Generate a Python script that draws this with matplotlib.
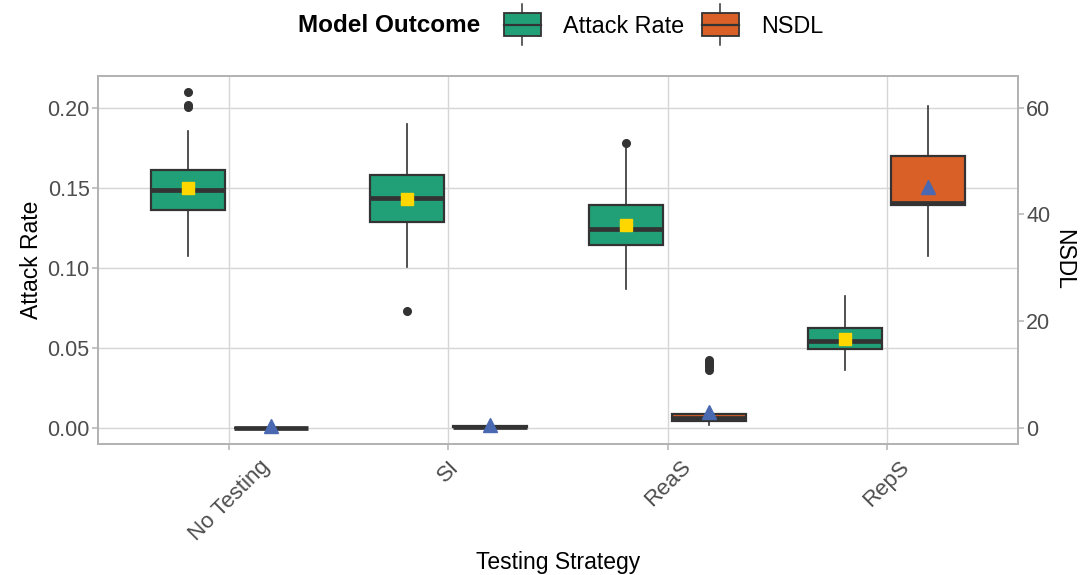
import numpy as np
import matplotlib
matplotlib.use("Agg")
import matplotlib.pyplot as plt
from matplotlib.legend_handler import HandlerBase
from matplotlib.patches import Rectangle, Patch
from matplotlib.lines import Line2D

plt.rcParams["font.family"] = ["Liberation Sans", "DejaVu Sans"]

strategies = ["No Testing", "SI", "ReaS", "RepS"]

# attack rate (left axis)
ar_lo = [0.1073, 0.1003, 0.0865, 0.0360]
ar_q1 = [0.1361, 0.1284, 0.1140, 0.0490]
ar_med = [0.1486, 0.1434, 0.1240, 0.0544]
ar_q3 = [0.1609, 0.1580, 0.1392, 0.0625]
ar_hi = [0.1854, 0.1898, 0.1750, 0.0825]
ar_mean = [0.1500, 0.1431, 0.1269, 0.0556]
ar_out = [[0.2098, 0.2017, 0.2002], [0.0731], [0.1778], []]

# NSDL (right axis)
nsdl_lo = [0.0, 0.1, 0.5, 32.2]
nsdl_q1 = [0.0, 0.2, 1.3, 41.8]
nsdl_med = [0.0, 0.2, 1.9, 42.1]
nsdl_q3 = [0.0, 0.3, 2.5, 50.9]
nsdl_hi = [0.0, 0.3, 3.4, 60.3]
nsdl_mean = [0.3, 0.5, 3.0, 45.1]
nsdl_out = [[], [], [10.9, 11.3, 11.7, 12.1, 12.4, 12.7], []]

green = "#21A077"
orange = "#D96026"
dark = "#333333"
grid_col = "#D6D6D6"
border = "#B3B3B3"

x = np.arange(len(strategies))
dodge = 0.19
bw = 0.34


def make_stats(lo, q1, med, q3, hi, out):
    return [dict(whislo=a, q1=b, med=c, q3=d, whishi=e, fliers=f)
            for a, b, c, d, e, f in zip(lo, q1, med, q3, hi, out)]


def draw_boxes(ax, stats, pos, fc):
    ax.bxp(stats, positions=pos, widths=bw, patch_artist=True, showcaps=False,
           boxprops=dict(facecolor=fc, edgecolor=dark, linewidth=1.6),
           medianprops=dict(color=dark, linewidth=3.4, solid_capstyle="butt"),
           whiskerprops=dict(color=dark, linewidth=1.2),
           flierprops=dict(marker="o", markerfacecolor=dark, markeredgecolor=dark,
                           markersize=5.5),
           manage_ticks=False)


fig = plt.figure(figsize=(10.91, 5.75), dpi=100)
ax = fig.add_axes([0.0898, 0.2278, 0.8433, 0.6405])
ax2 = ax.twinx()

draw_boxes(ax, make_stats(ar_lo, ar_q1, ar_med, ar_q3, ar_hi, ar_out), x - dodge, green)
ax.plot(x - dodge, ar_mean, ls="none", marker="s", markersize=8,
        color="#FFD700", zorder=5)

draw_boxes(ax2, make_stats(nsdl_lo, nsdl_q1, nsdl_med, nsdl_q3, nsdl_hi, nsdl_out),
           x + dodge, orange)
ax2.plot(x + dodge, nsdl_mean, ls="none", marker="^", markersize=10.5,
         color="#4A69B1", zorder=5)

ylo, yhi = -0.0102, 0.22
ax.set_ylim(ylo, yhi)
ax2.set_ylim(ylo * 300, yhi * 300)
ax.set_xlim(-0.6, 3.6)
ax.set_yticks([0, 0.05, 0.10, 0.15, 0.20])
ax.set_yticklabels(["0.00", "0.05", "0.10", "0.15", "0.20"])
ax2.set_yticks([0, 20, 40, 60])
ax.set_xticks(x)
ax.set_xticklabels(strategies, rotation=45, ha="center", va="top")

ax.grid(True, color=grid_col, linewidth=1.0)
ax.set_axisbelow(True)
for a in (ax, ax2):
    for s in a.spines.values():
        s.set_color(border)
        s.set_linewidth(1.4)
    a.tick_params(color=border, length=4, width=1.1, labelcolor="#4D4D4D")
ax.tick_params(axis="y", labelsize=15.5, pad=2)
ax.tick_params(axis="x", labelsize=16, pad=5)
ax2.tick_params(axis="y", labelsize=15.5, pad=2)

ax.set_xlabel("Testing Strategy", fontsize=16.5, labelpad=4)
ax.set_ylabel("Attack Rate", fontsize=16.5, labelpad=3)
ax2.set_ylabel("NSDL", fontsize=16.5, rotation=270, labelpad=18)


class BoxKey(HandlerBase):
    def create_artists(self, legend, orig_handle, xdescent, ydescent, width,
                       height, fontsize, trans):
        fc = orig_handle.get_facecolor()
        x0, y0 = -xdescent, -ydescent
        xm = x0 + width / 2
        rect = Rectangle((x0, y0), width, height, facecolor=fc,
                         edgecolor=dark, linewidth=1.3, transform=trans)
        med = Line2D([x0, x0 + width], [y0 + height / 2] * 2, color=dark,
                     linewidth=1.6, transform=trans)
        top = Line2D([xm, xm], [y0 + height, y0 + height + 6.5], color=dark,
                     linewidth=1.1, transform=trans)
        bot = Line2D([xm, xm], [y0, y0 - 6.5], color=dark, linewidth=1.1,
                     transform=trans)
        return [rect, med, top, bot]


handles = [Patch(facecolor=green), Patch(facecolor=orange)]
fig.text(0.273, 0.956, "Model Outcome", fontsize=17.5, fontweight="bold",
         ha="left", va="center")
fig.legend(handles, ["Attack Rate", "NSDL"], loc="center left",
           bbox_to_anchor=(0.451, 0.956), ncol=2, frameon=False, fontsize=16.8,
           handler_map={Patch: BoxKey()}, handlelength=1.6, handleheight=1.15,
           handletextpad=0.95, columnspacing=0.75, borderpad=0)

fig.savefig("out.png", dpi=100)
